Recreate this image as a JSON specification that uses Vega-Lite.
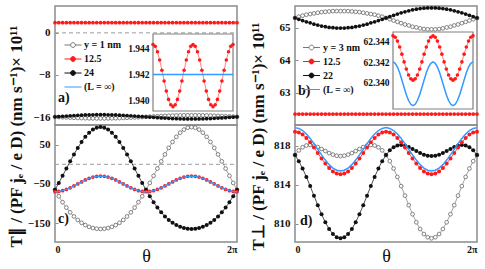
{
"$schema": "https://vega.github.io/schema/vega-lite/v6.json",
"padding": {"left": 6, "top": 5, "right": 0, "bottom": 0},
"background": "white",
"config": {
 "view": {"stroke": "#8c8c8c", "strokeWidth": 1.5},
 "axis": {"labelFont": "Liberation Serif", "labelFontWeight": "bold", "labelFontSize": 11, "labelColor": "#111", "grid": false, "domain": false, "tickColor": "#8c8c8c", "tickSize": -3, "labelPadding": 8, "titleFont": "Liberation Serif", "titleColor": "#111"}
},
"datasets": {
 "main": [
  {"k":0,"a1":-15.95,"a2":-15.95,"b1":65.3,"b2":65.3,"c1":-65,"c2":-65,"c3":-70,"d1":817.07,"d2":817.07,"d3":819.47,"d4":819.89},
  {"k":1,"a1":-15.99,"a2":-15.9,"b1":65.34,"b2":65.26,"c1":-81.46,"c2":-47.52,"c3":-69.32,"d1":817.55,"d2":816.44,"d3":819.4,"d4":819.81},
  {"k":2,"a1":-16.03,"a2":-15.85,"b1":65.37,"b2":65.22,"c1":-96.63,"c2":-29.35,"c3":-67.32,"d1":817.87,"d2":815.68,"d3":819.18,"d4":819.59},
  {"k":3,"a1":-16.06,"a2":-15.8,"b1":65.4,"b2":65.18,"c1":-110.36,"c2":-10.86,"c3":-64.14,"d1":818.05,"d2":814.82,"d3":818.83,"d4":819.24},
  {"k":4,"a1":-16.1,"a2":-15.75,"b1":65.42,"b2":65.15,"c1":-122.5,"c2":7.5,"c3":-60,"d1":818.1,"d2":813.87,"d3":818.38,"d4":818.78},
  {"k":5,"a1":-16.13,"a2":-15.71,"b1":65.44,"b2":65.11,"c1":-133.02,"c2":25.26,"c3":-55.18,"d1":818.04,"d2":812.89,"d3":817.85,"d4":818.24},
  {"k":6,"a1":-16.16,"a2":-15.67,"b1":65.46,"b2":65.08,"c1":-141.92,"c2":41.92,"c3":-50,"d1":817.89,"d2":811.91,"d3":817.28,"d4":817.66},
  {"k":7,"a1":-16.19,"a2":-15.63,"b1":65.48,"b2":65.05,"c1":-149.26,"c2":57.02,"c3":-44.82,"d1":817.69,"d2":810.98,"d3":816.71,"d4":817.08},
  {"k":8,"a1":-16.21,"a2":-15.6,"b1":65.49,"b2":65.03,"c1":-155.08,"c2":70.08,"c3":-40,"d1":817.48,"d2":810.15,"d3":816.19,"d4":816.55},
  {"k":9,"a1":-16.23,"a2":-15.58,"b1":65.5,"b2":65.01,"c1":-159.5,"c2":80.72,"c3":-35.86,"d1":817.27,"d2":809.46,"d3":815.73,"d4":816.08},
  {"k":10,"a1":-16.24,"a2":-15.56,"b1":65.51,"b2":65,"c1":-162.58,"c2":88.56,"c3":-32.68,"d1":817.11,"d2":808.94,"d3":815.38,"d4":815.73},
  {"k":11,"a1":-16.25,"a2":-15.55,"b1":65.51,"b2":64.99,"c1":-164.39,"c2":93.37,"c3":-30.68,"d1":817,"d2":808.61,"d3":815.17,"d4":815.51},
  {"k":12,"a1":-16.25,"a2":-15.55,"b1":65.51,"b2":64.99,"c1":-165,"c2":95,"c3":-30,"d1":816.96,"d2":808.5,"d3":815.09,"d4":815.43},
  {"k":13,"a1":-16.25,"a2":-15.55,"b1":65.51,"b2":64.99,"c1":-164.39,"c2":93.37,"c3":-30.68,"d1":817,"d2":808.61,"d3":815.17,"d4":815.51},
  {"k":14,"a1":-16.24,"a2":-15.56,"b1":65.51,"b2":65,"c1":-162.58,"c2":88.56,"c3":-32.68,"d1":817.11,"d2":808.94,"d3":815.38,"d4":815.73},
  {"k":15,"a1":-16.23,"a2":-15.58,"b1":65.5,"b2":65.01,"c1":-159.5,"c2":80.72,"c3":-35.86,"d1":817.27,"d2":809.46,"d3":815.73,"d4":816.08},
  {"k":16,"a1":-16.21,"a2":-15.6,"b1":65.49,"b2":65.03,"c1":-155.08,"c2":70.08,"c3":-40,"d1":817.48,"d2":810.15,"d3":816.19,"d4":816.55},
  {"k":17,"a1":-16.19,"a2":-15.63,"b1":65.48,"b2":65.05,"c1":-149.26,"c2":57.02,"c3":-44.82,"d1":817.69,"d2":810.98,"d3":816.71,"d4":817.08},
  {"k":18,"a1":-16.16,"a2":-15.67,"b1":65.46,"b2":65.08,"c1":-141.92,"c2":41.92,"c3":-50,"d1":817.89,"d2":811.91,"d3":817.28,"d4":817.66},
  {"k":19,"a1":-16.13,"a2":-15.71,"b1":65.44,"b2":65.11,"c1":-133.02,"c2":25.26,"c3":-55.18,"d1":818.04,"d2":812.89,"d3":817.85,"d4":818.24},
  {"k":20,"a1":-16.1,"a2":-15.75,"b1":65.42,"b2":65.15,"c1":-122.5,"c2":7.5,"c3":-60,"d1":818.1,"d2":813.87,"d3":818.38,"d4":818.78},
  {"k":21,"a1":-16.06,"a2":-15.8,"b1":65.4,"b2":65.18,"c1":-110.36,"c2":-10.86,"c3":-64.14,"d1":818.05,"d2":814.82,"d3":818.83,"d4":819.24},
  {"k":22,"a1":-16.03,"a2":-15.85,"b1":65.37,"b2":65.22,"c1":-96.63,"c2":-29.35,"c3":-67.32,"d1":817.87,"d2":815.68,"d3":819.18,"d4":819.59},
  {"k":23,"a1":-15.99,"a2":-15.9,"b1":65.34,"b2":65.26,"c1":-81.46,"c2":-47.52,"c3":-69.32,"d1":817.55,"d2":816.44,"d3":819.4,"d4":819.81},
  {"k":24,"a1":-15.95,"a2":-15.95,"b1":65.3,"b2":65.3,"c1":-65,"c2":-65,"c3":-70,"d1":817.07,"d2":817.07,"d3":819.47,"d4":819.89},
  {"k":25,"a1":-15.91,"a2":-16,"b1":65.26,"b2":65.34,"c1":-47.52,"c2":-81.46,"c3":-69.32,"d1":816.44,"d2":817.55,"d3":819.4,"d4":819.81},
  {"k":26,"a1":-15.87,"a2":-16.05,"b1":65.22,"b2":65.38,"c1":-29.35,"c2":-96.63,"c3":-67.32,"d1":815.68,"d2":817.87,"d3":819.18,"d4":819.59},
  {"k":27,"a1":-15.84,"a2":-16.1,"b1":65.18,"b2":65.42,"c1":-10.86,"c2":-110.36,"c3":-64.14,"d1":814.82,"d2":818.05,"d3":818.83,"d4":819.24},
  {"k":28,"a1":-15.8,"a2":-16.15,"b1":65.14,"b2":65.46,"c1":7.5,"c2":-122.5,"c3":-60,"d1":813.87,"d2":818.1,"d3":818.38,"d4":818.78},
  {"k":29,"a1":-15.77,"a2":-16.19,"b1":65.1,"b2":65.49,"c1":25.26,"c2":-133.02,"c3":-55.18,"d1":812.89,"d2":818.04,"d3":817.85,"d4":818.24},
  {"k":30,"a1":-15.74,"a2":-16.23,"b1":65.07,"b2":65.52,"c1":41.92,"c2":-141.92,"c3":-50,"d1":811.91,"d2":817.89,"d3":817.28,"d4":817.66},
  {"k":31,"a1":-15.71,"a2":-16.27,"b1":65.03,"b2":65.55,"c1":57.02,"c2":-149.26,"c3":-44.82,"d1":810.98,"d2":817.69,"d3":816.71,"d4":817.08},
  {"k":32,"a1":-15.69,"a2":-16.3,"b1":65.01,"b2":65.57,"c1":70.08,"c2":-155.08,"c3":-40,"d1":810.15,"d2":817.48,"d3":816.19,"d4":816.55},
  {"k":33,"a1":-15.67,"a2":-16.32,"b1":64.98,"b2":65.59,"c1":80.72,"c2":-159.5,"c3":-35.86,"d1":809.46,"d2":817.27,"d3":815.73,"d4":816.08},
  {"k":34,"a1":-15.66,"a2":-16.34,"b1":64.96,"b2":65.6,"c1":88.56,"c2":-162.58,"c3":-32.68,"d1":808.94,"d2":817.11,"d3":815.38,"d4":815.73},
  {"k":35,"a1":-15.65,"a2":-16.35,"b1":64.95,"b2":65.61,"c1":93.37,"c2":-164.39,"c3":-30.68,"d1":808.61,"d2":817,"d3":815.17,"d4":815.51},
  {"k":36,"a1":-15.65,"a2":-16.35,"b1":64.95,"b2":65.61,"c1":95,"c2":-165,"c3":-30,"d1":808.5,"d2":816.96,"d3":815.09,"d4":815.43},
  {"k":37,"a1":-15.65,"a2":-16.35,"b1":64.95,"b2":65.61,"c1":93.37,"c2":-164.39,"c3":-30.68,"d1":808.61,"d2":817,"d3":815.17,"d4":815.51},
  {"k":38,"a1":-15.66,"a2":-16.34,"b1":64.96,"b2":65.6,"c1":88.56,"c2":-162.58,"c3":-32.68,"d1":808.94,"d2":817.11,"d3":815.38,"d4":815.73},
  {"k":39,"a1":-15.67,"a2":-16.32,"b1":64.98,"b2":65.59,"c1":80.72,"c2":-159.5,"c3":-35.86,"d1":809.46,"d2":817.27,"d3":815.73,"d4":816.08},
  {"k":40,"a1":-15.69,"a2":-16.3,"b1":65.01,"b2":65.57,"c1":70.08,"c2":-155.08,"c3":-40,"d1":810.15,"d2":817.48,"d3":816.19,"d4":816.55},
  {"k":41,"a1":-15.71,"a2":-16.27,"b1":65.03,"b2":65.55,"c1":57.02,"c2":-149.26,"c3":-44.82,"d1":810.98,"d2":817.69,"d3":816.71,"d4":817.08},
  {"k":42,"a1":-15.74,"a2":-16.23,"b1":65.07,"b2":65.52,"c1":41.92,"c2":-141.92,"c3":-50,"d1":811.91,"d2":817.89,"d3":817.28,"d4":817.66},
  {"k":43,"a1":-15.77,"a2":-16.19,"b1":65.1,"b2":65.49,"c1":25.26,"c2":-133.02,"c3":-55.18,"d1":812.89,"d2":818.04,"d3":817.85,"d4":818.24},
  {"k":44,"a1":-15.8,"a2":-16.15,"b1":65.14,"b2":65.46,"c1":7.5,"c2":-122.5,"c3":-60,"d1":813.87,"d2":818.1,"d3":818.38,"d4":818.78},
  {"k":45,"a1":-15.84,"a2":-16.1,"b1":65.18,"b2":65.42,"c1":-10.86,"c2":-110.36,"c3":-64.14,"d1":814.82,"d2":818.05,"d3":818.83,"d4":819.24},
  {"k":46,"a1":-15.87,"a2":-16.05,"b1":65.22,"b2":65.38,"c1":-29.35,"c2":-96.63,"c3":-67.32,"d1":815.68,"d2":817.87,"d3":819.18,"d4":819.59},
  {"k":47,"a1":-15.91,"a2":-16,"b1":65.26,"b2":65.34,"c1":-47.52,"c2":-81.46,"c3":-69.32,"d1":816.44,"d2":817.55,"d3":819.4,"d4":819.81},
  {"k":48,"a1":-15.95,"a2":-15.95,"b1":65.3,"b2":65.3,"c1":-65,"c2":-65,"c3":-70,"d1":817.07,"d2":817.07,"d3":819.47,"d4":819.89}
 ],
 "ins": [
  {"j":0,"ar":1.94428,"br":62.34451,"bb":62.34201},
  {"j":1,"ar":1.94414,"br":62.34438,"bb":62.34188},
  {"j":2,"ar":1.94373,"br":62.34401,"bb":62.34152},
  {"j":3,"ar":1.9431,"br":62.34345,"bb":62.34097},
  {"j":4,"ar":1.94233,"br":62.34276,"bb":62.34028},
  {"j":5,"ar":1.94151,"br":62.34202,"bb":62.33956},
  {"j":6,"ar":1.94074,"br":62.34133,"bb":62.33888},
  {"j":7,"ar":1.94011,"br":62.34077,"bb":62.33832},
  {"j":8,"ar":1.9397,"br":62.3404,"bb":62.33796},
  {"j":9,"ar":1.93956,"br":62.34027,"bb":62.33783},
  {"j":10,"ar":1.9397,"br":62.3404,"bb":62.33796},
  {"j":11,"ar":1.94011,"br":62.34077,"bb":62.33832},
  {"j":12,"ar":1.94074,"br":62.34133,"bb":62.33888},
  {"j":13,"ar":1.94151,"br":62.34202,"bb":62.33956},
  {"j":14,"ar":1.94233,"br":62.34276,"bb":62.34028},
  {"j":15,"ar":1.9431,"br":62.34345,"bb":62.34097},
  {"j":16,"ar":1.94373,"br":62.34401,"bb":62.34152},
  {"j":17,"ar":1.94414,"br":62.34438,"bb":62.34188},
  {"j":18,"ar":1.94428,"br":62.34451,"bb":62.34201},
  {"j":19,"ar":1.94414,"br":62.34438,"bb":62.34188},
  {"j":20,"ar":1.94373,"br":62.34401,"bb":62.34152},
  {"j":21,"ar":1.9431,"br":62.34345,"bb":62.34097},
  {"j":22,"ar":1.94233,"br":62.34276,"bb":62.34028},
  {"j":23,"ar":1.94151,"br":62.34202,"bb":62.33956},
  {"j":24,"ar":1.94074,"br":62.34133,"bb":62.33888},
  {"j":25,"ar":1.94011,"br":62.34077,"bb":62.33832},
  {"j":26,"ar":1.9397,"br":62.3404,"bb":62.33796},
  {"j":27,"ar":1.93956,"br":62.34027,"bb":62.33783},
  {"j":28,"ar":1.9397,"br":62.3404,"bb":62.33796},
  {"j":29,"ar":1.94011,"br":62.34077,"bb":62.33832},
  {"j":30,"ar":1.94074,"br":62.34133,"bb":62.33888},
  {"j":31,"ar":1.94151,"br":62.34202,"bb":62.33956},
  {"j":32,"ar":1.94233,"br":62.34276,"bb":62.34028},
  {"j":33,"ar":1.9431,"br":62.34345,"bb":62.34097},
  {"j":34,"ar":1.94373,"br":62.34401,"bb":62.34152},
  {"j":35,"ar":1.94414,"br":62.34438,"bb":62.34188},
  {"j":36,"ar":1.94428,"br":62.34451,"bb":62.34201}
 ]
},
"columns": 2,
"spacing": {"row": 0, "column": 58},
"bounds": "flush",
"resolve": {"scale": {"shape": "independent", "fill": "independent", "stroke": "independent"}},
"concat": [
 {
  "width": 182, "height": 119,
  "resolve": {"scale": {"x": "independent", "y": "independent"}},
  "layer": [
   {
    "data": {"name": "main"},
    "layer": [
     {"mark": {"type": "line", "color": "#9a9a9a", "strokeWidth": 1, "strokeDash": [4, 3]},
      "encoding": {"x": {"field": "k", "type": "quantitative", "scale": {"domain": [0, 48], "nice": false, "zero": false}, "axis": null},
       "y": {"datum": 0, "type": "quantitative", "scale": {"domain": [-17.5, 5.1], "nice": false, "zero": false},
        "axis": {"orient": "left", "values": [0, -8, -16], "title": "T∥ / (PF jₑ / e D) (nm s⁻¹)× 10¹¹", "titleFontSize": 17, "titleFontWeight": "bold", "titleX": -39, "titleY": 130, "titleAngle": -90, "titleAlign": "center", "titleBaseline": "middle"}}}},
     {"mark": {"type": "line", "color": "#8a8a8a", "strokeWidth": 0.8, "point": {"filled": true, "fill": "white", "stroke": "#666666", "strokeWidth": 0.8, "size": 14}},
      "encoding": {"x": {"field": "k", "type": "quantitative"}, "y": {"field": "a1", "type": "quantitative"}}},
     {"mark": {"type": "line", "color": "#222222", "strokeWidth": 0.8, "point": {"filled": true, "color": "#111111", "size": 14}},
      "encoding": {"x": {"field": "k", "type": "quantitative"}, "y": {"field": "a2", "type": "quantitative"}}},
     {"mark": {"type": "line", "color": "#ff2020", "strokeWidth": 0.8, "point": {"filled": true, "color": "#ff1a1a", "size": 14}},
      "encoding": {"x": {"field": "k", "type": "quantitative"}, "y": {"datum": 1.942, "type": "quantitative"}}},
     {"data": {"values": [{"s": "y = 1 nm"}, {"s": "12.5"}, {"s": "24"}, {"s": "(L = ∞)"}]},
      "mark": {"type": "point", "opacity": 0},
      "encoding": {
       "shape": {"field": "s", "type": "nominal", "scale": {"domain": ["y = 1 nm", "12.5", "24", "(L = ∞)"], "range": ["M-1.42,0H-0.4M0.4,0H1.42M0.4,0A0.4,0.4,0,1,1,-0.4,0A0.4,0.4,0,1,1,0.4,0", "M-1.42,0H1.42M0.4,0A0.4,0.4,0,1,1,-0.4,0A0.4,0.4,0,1,1,0.4,0", "M-1.42,0H1.42M0.4,0A0.4,0.4,0,1,1,-0.4,0A0.4,0.4,0,1,1,0.4,0", "M-1.42,0H1.42"]},
        "legend": {"title": null, "orient": "none", "legendX": 11.5, "legendY": 32.5, "symbolSize": 144, "symbolStrokeWidth": 1, "symbolOpacity": 1, "labelFont": "Liberation Serif", "labelFontWeight": "bold", "labelFontSize": 10, "labelColor": "#111", "labelOffset": 4.5, "rowPadding": 2}},
       "fill": {"field": "s", "type": "nominal", "scale": {"domain": ["y = 1 nm", "12.5", "24", "(L = ∞)"], "range": ["white", "#ff1a1a", "#111111", "transparent"]},
        "legend": {"title": null, "orient": "none", "legendX": 11.5, "legendY": 32.5, "symbolSize": 144, "symbolStrokeWidth": 1, "symbolOpacity": 1, "labelFont": "Liberation Serif", "labelFontWeight": "bold", "labelFontSize": 10, "labelColor": "#111", "labelOffset": 4.5, "rowPadding": 2}},
       "stroke": {"field": "s", "type": "nominal", "scale": {"domain": ["y = 1 nm", "12.5", "24", "(L = ∞)"], "range": ["#777777", "#ff1a1a", "#111111", "#3399ff"]},
        "legend": {"title": null, "orient": "none", "legendX": 11.5, "legendY": 32.5, "symbolSize": 144, "symbolStrokeWidth": 1, "symbolOpacity": 1, "labelFont": "Liberation Serif", "labelFontWeight": "bold", "labelFontSize": 10, "labelColor": "#111", "labelOffset": 4.5, "rowPadding": 2}}
      }},
     {"data": {"values": [{"t": "a)"}]},
      "mark": {"type": "text", "font": "Liberation Serif", "fontWeight": "bold", "fontSize": 14, "align": "left", "baseline": "middle", "color": "#111"},
      "encoding": {"text": {"field": "t", "type": "nominal"}, "x": {"datum": 0.8, "type": "quantitative"}, "y": {"datum": -12.35, "type": "quantitative"}}}
    ]
   },
   {
    "data": {"name": "ins"},
    "layer": [
     {"mark": {"type": "rect", "fill": "white", "stroke": "#808080", "strokeWidth": 1.2},
      "encoding": {"x": {"aggregate": "min", "field": "j", "type": "quantitative", "scale": {"domain": [0, 36], "range": [98, 178], "nice": false, "zero": false}, "axis": null},
       "x2": {"aggregate": "max", "field": "j"},
       "y": {"datum": 1.93923, "type": "quantitative", "scale": {"domain": [1.93923, 1.94508], "range": [105, 28], "nice": false, "zero": false},
        "axis": {"orient": "left", "offset": -98, "values": [1.94, 1.942, 1.944], "format": ".3f", "title": null, "labelPadding": 7, "labelFontSize": 9.5}},
       "y2": {"datum": 1.94508}}},
     {"mark": {"type": "line", "color": "#ff6060", "strokeWidth": 0.8, "point": {"filled": true, "color": "#ff1a1a", "size": 13}},
      "encoding": {"x": {"field": "j", "type": "quantitative"}, "y": {"field": "ar", "type": "quantitative"}}},
     {"mark": {"type": "line", "color": "#3399ff", "strokeWidth": 1.5},
      "encoding": {"x": {"field": "j", "type": "quantitative"}, "y": {"datum": 1.942, "type": "quantitative"}}}
    ]
   }
  ]
 },
 {
  "width": 182, "height": 119,
  "resolve": {"scale": {"x": "independent", "y": "independent"}},
  "layer": [
   {
    "data": {"name": "main"},
    "layer": [
     {"mark": {"type": "line", "color": "#8a8a8a", "strokeWidth": 0.8, "point": {"filled": true, "fill": "white", "stroke": "#666666", "strokeWidth": 0.8, "size": 14}},
      "encoding": {"x": {"field": "k", "type": "quantitative", "scale": {"domain": [0, 48], "nice": false, "zero": false}, "axis": null},
       "y": {"field": "b1", "type": "quantitative", "scale": {"domain": [62.006, 65.668], "nice": false, "zero": false},
        "axis": {"orient": "left", "values": [63, 64, 65], "format": "d", "title": "T⊥ / (PF jₑ / e D) (nm s⁻¹)× 10¹¹", "titleFontSize": 17, "titleFontWeight": "bold", "titleX": -37, "titleY": 130, "titleAngle": -90, "titleAlign": "center", "titleBaseline": "middle"}}}},
     {"mark": {"type": "line", "color": "#222222", "strokeWidth": 0.8, "point": {"filled": true, "color": "#111111", "size": 14}},
      "encoding": {"x": {"field": "k", "type": "quantitative"}, "y": {"field": "b2", "type": "quantitative"}}},
     {"mark": {"type": "line", "color": "#ff2020", "strokeWidth": 0.8, "point": {"filled": true, "color": "#ff1a1a", "size": 14}},
      "encoding": {"x": {"field": "k", "type": "quantitative"}, "y": {"datum": 62.342, "type": "quantitative"}}},
     {"data": {"values": [{"s": "y = 3 nm"}, {"s": "12.5"}, {"s": "22"}, {"s": "(L = ∞)"}]},
      "mark": {"type": "point", "opacity": 0},
      "encoding": {
       "shape": {"field": "s", "type": "nominal", "scale": {"domain": ["y = 3 nm", "12.5", "22", "(L = ∞)"], "range": ["M-1.42,0H-0.4M0.4,0H1.42M0.4,0A0.4,0.4,0,1,1,-0.4,0A0.4,0.4,0,1,1,0.4,0", "M-1.42,0H1.42M0.4,0A0.4,0.4,0,1,1,-0.4,0A0.4,0.4,0,1,1,0.4,0", "M-1.42,0H1.42M0.4,0A0.4,0.4,0,1,1,-0.4,0A0.4,0.4,0,1,1,0.4,0", "M-1.42,0H1.42"]},
        "legend": {"title": null, "orient": "none", "legendX": 10, "legendY": 35, "symbolSize": 144, "symbolStrokeWidth": 1, "symbolOpacity": 1, "labelFont": "Liberation Serif", "labelFontWeight": "bold", "labelFontSize": 10, "labelColor": "#111", "labelOffset": 5, "rowPadding": 2}},
       "fill": {"field": "s", "type": "nominal", "scale": {"domain": ["y = 3 nm", "12.5", "22", "(L = ∞)"], "range": ["white", "#ff1a1a", "#111111", "transparent"]},
        "legend": {"title": null, "orient": "none", "legendX": 10, "legendY": 35, "symbolSize": 144, "symbolStrokeWidth": 1, "symbolOpacity": 1, "labelFont": "Liberation Serif", "labelFontWeight": "bold", "labelFontSize": 10, "labelColor": "#111", "labelOffset": 5, "rowPadding": 2}},
       "stroke": {"field": "s", "type": "nominal", "scale": {"domain": ["y = 3 nm", "12.5", "22", "(L = ∞)"], "range": ["#777777", "#ff1a1a", "#111111", "#3399ff"]},
        "legend": {"title": null, "orient": "none", "legendX": 10, "legendY": 35, "symbolSize": 144, "symbolStrokeWidth": 1, "symbolOpacity": 1, "labelFont": "Liberation Serif", "labelFontWeight": "bold", "labelFontSize": 10, "labelColor": "#111", "labelOffset": 5, "rowPadding": 2}}
      }},
     {"data": {"values": [{"t": "b)"}]},
      "mark": {"type": "text", "font": "Liberation Serif", "fontWeight": "bold", "fontSize": 14, "align": "left", "baseline": "middle", "color": "#111"},
      "encoding": {"text": {"field": "t", "type": "nominal"}, "x": {"datum": 0.8, "type": "quantitative"}, "y": {"datum": 63.05, "type": "quantitative"}}}
    ]
   },
   {
    "data": {"name": "ins"},
    "layer": [
     {"mark": {"type": "rect", "fill": "white", "stroke": "#808080", "strokeWidth": 1.2},
      "encoding": {"x": {"aggregate": "min", "field": "j", "type": "quantitative", "scale": {"domain": [0, 36], "range": [98, 178], "nice": false, "zero": false}, "axis": null},
       "x2": {"aggregate": "max", "field": "j"},
       "y": {"datum": 62.33751, "type": "quantitative", "scale": {"domain": [62.33751, 62.34488], "range": [103, 26], "nice": false, "zero": false},
        "axis": {"orient": "left", "offset": -98, "values": [62.34, 62.342, 62.344], "format": ".3f", "title": null, "labelPadding": 7, "labelFontSize": 9.5}},
       "y2": {"datum": 62.34488}}},
     {"mark": {"type": "line", "color": "#ff6060", "strokeWidth": 0.8, "point": {"filled": true, "color": "#ff1a1a", "size": 13}},
      "encoding": {"x": {"field": "j", "type": "quantitative"}, "y": {"field": "br", "type": "quantitative"}}},
     {"mark": {"type": "line", "color": "#3399ff", "strokeWidth": 1.5},
      "encoding": {"x": {"field": "j", "type": "quantitative"}, "y": {"field": "bb", "type": "quantitative"}}}
    ]
   }
  ]
 },
 {
  "width": 182, "height": 117,
  "data": {"name": "main"},
  "layer": [
   {"mark": {"type": "line", "color": "#9a9a9a", "strokeWidth": 1, "strokeDash": [4, 3]},
    "encoding": {"x": {"field": "k", "type": "quantitative", "scale": {"domain": [0, 48], "nice": false, "zero": false},
      "axis": {"values": [0, 48], "labelExpr": "datum.value == 0 ? '0' : '2π'", "ticks": false, "labelFlush": true, "labelPadding": 2, "labelFontSize": 10, "title": "θ", "titleFontSize": 18, "titleFontWeight": "normal", "titleY": 14, "titleBaseline": "middle"}},
     "y": {"datum": 0, "type": "quantitative", "scale": {"domain": [-198.2, 100.3], "nice": false, "zero": false},
      "axis": {"orient": "left", "values": [50, -50, -150], "title": null}}}},
   {"mark": {"type": "line", "color": "#8a8a8a", "strokeWidth": 0.8, "point": {"filled": true, "fill": "white", "stroke": "#666666", "strokeWidth": 0.8, "size": 14}},
    "encoding": {"x": {"field": "k", "type": "quantitative"}, "y": {"field": "c1", "type": "quantitative"}}},
   {"mark": {"type": "line", "color": "#222222", "strokeWidth": 0.8, "point": {"filled": true, "color": "#111111", "size": 16}},
    "encoding": {"x": {"field": "k", "type": "quantitative"}, "y": {"field": "c2", "type": "quantitative"}}},
   {"mark": {"type": "point", "filled": true, "color": "#ff1a1a", "size": 14, "opacity": 1},
    "encoding": {"x": {"field": "k", "type": "quantitative"}, "y": {"field": "c3", "type": "quantitative"}}},
   {"mark": {"type": "line", "color": "#3399ff", "strokeWidth": 1.3},
    "encoding": {"x": {"field": "k", "type": "quantitative"}, "y": {"field": "c3", "type": "quantitative"}}},
   {"data": {"values": [{"t": "c)"}]},
    "mark": {"type": "text", "font": "Liberation Serif", "fontWeight": "bold", "fontSize": 14, "align": "left", "baseline": "middle", "color": "#111"},
    "encoding": {"text": {"field": "t", "type": "nominal"}, "x": {"datum": 0.8, "type": "quantitative"}, "y": {"datum": -139.5, "type": "quantitative"}}}
  ]
 },
 {
  "width": 182, "height": 117,
  "data": {"name": "main"},
  "layer": [
   {"mark": {"type": "line", "color": "#8a8a8a", "strokeWidth": 0.8, "point": {"filled": true, "fill": "white", "stroke": "#666666", "strokeWidth": 0.8, "size": 14}},
    "encoding": {"x": {"field": "k", "type": "quantitative", "scale": {"domain": [0, 48], "nice": false, "zero": false},
      "axis": {"values": [0, 48], "labelExpr": "datum.value == 0 ? '0' : '2π'", "ticks": false, "labelFlush": true, "labelPadding": 2, "labelFontSize": 10, "title": "θ", "titleFontSize": 18, "titleFontWeight": "normal", "titleY": 14, "titleBaseline": "middle"}},
     "y": {"field": "d1", "type": "quantitative", "scale": {"domain": [808.12, 820.16], "nice": false, "zero": false},
      "axis": {"orient": "left", "values": [810, 814, 818], "format": "d", "title": null}}}},
   {"mark": {"type": "line", "color": "#222222", "strokeWidth": 0.8, "point": {"filled": true, "color": "#111111", "size": 16}},
    "encoding": {"x": {"field": "k", "type": "quantitative"}, "y": {"field": "d2", "type": "quantitative"}}},
   {"mark": {"type": "line", "color": "#ff2020", "strokeWidth": 0.8, "point": {"filled": true, "color": "#ff1a1a", "size": 16}},
    "encoding": {"x": {"field": "k", "type": "quantitative"}, "y": {"field": "d3", "type": "quantitative"}}},
   {"mark": {"type": "line", "color": "#3399ff", "strokeWidth": 1.5},
    "encoding": {"x": {"field": "k", "type": "quantitative"}, "y": {"field": "d4", "type": "quantitative"}}},
   {"data": {"values": [{"t": "d)"}]},
    "mark": {"type": "text", "font": "Liberation Serif", "fontWeight": "bold", "fontSize": 14, "align": "left", "baseline": "middle", "color": "#111"},
    "encoding": {"text": {"field": "t", "type": "nominal"}, "x": {"datum": 1.3, "type": "quantitative"}, "y": {"datum": 810.28, "type": "quantitative"}}}
  ]
 }
]
}
